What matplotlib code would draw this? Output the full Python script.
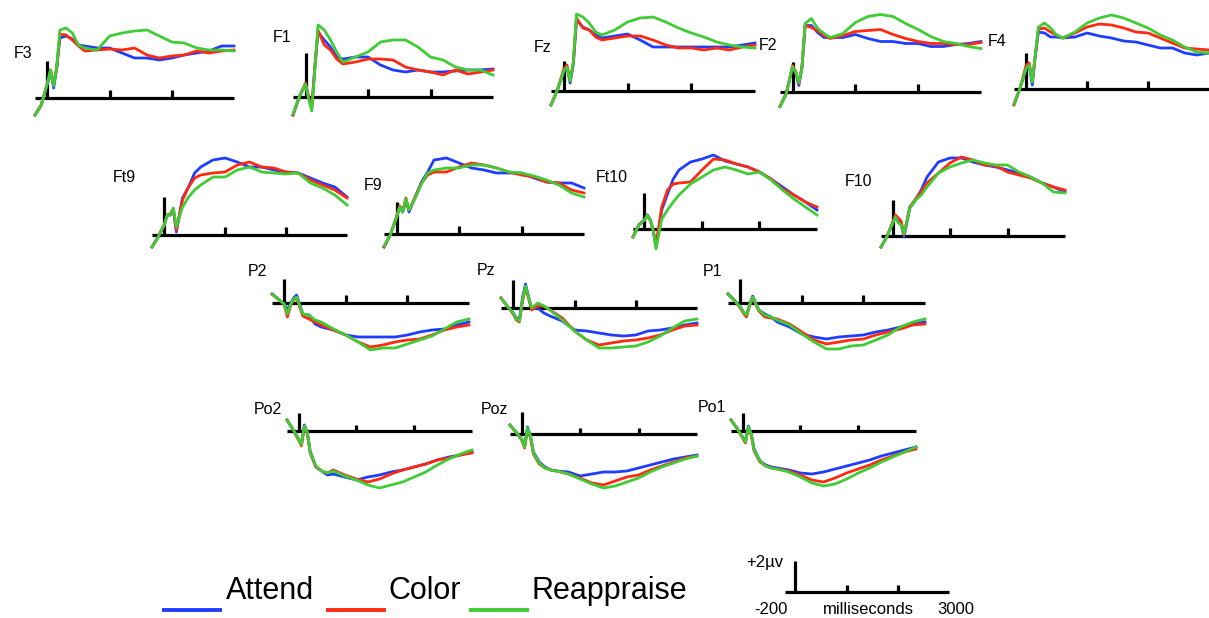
import matplotlib
matplotlib.use("Agg")
import matplotlib.pyplot as plt

plt.rcParams['font.family'] = ['Liberation Sans', 'DejaVu Sans']

# sample times (ms) shared by every waveform
T_MS = [-200, -100, 0, 50, 100, 150, 200, 300, 400, 500, 600, 800, 1000,
        1200, 1400, 1600, 1800, 2000, 2200, 2400, 2600, 2800, 3000]

CONDITIONS = ['Attend', 'Color', 'Reappraise']

# amplitudes (scale bar: +2 uV = 31 units)
f3_attend = [-17, -7, 14, 27, 10, 30, 60, 62, 59, 53, 52, 50, 50, 45, 40, 40, 38, 40, 43, 45, 47, 52, 52]
f3_color = [-17, -7, 15, 28, 13, 31, 64, 63, 58, 52, 47, 48, 49, 48, 50, 43, 40, 42, 43, 47, 45, 47, 48]
f3_reapp = [-17, -7, 15, 28, 12, 32, 68, 70, 65, 53, 50, 48, 62, 65, 67, 68, 62, 56, 55, 50, 48, 48, 47]

f1_attend = [-18, 0, 13, 0, -10, 30, 65, 57, 50, 40, 38, 40, 40, 32, 27, 25, 27, 25, 25, 26, 27, 27, 28]
f1_color = [-18, 0, 14, 0, -11, 30, 67, 52, 47, 38, 33, 35, 38, 38, 37, 30, 27, 25, 22, 27, 23, 25, 27]
f1_reapp = [-17, 0, 13, -2, -14, 28, 72, 67, 57, 45, 35, 40, 45, 55, 57, 57, 50, 40, 37, 30, 27, 27, 22]

fz_attend = [-14, 1, 19, 24, 8, 27, 71, 64, 61, 56, 53, 55, 57, 51, 44, 44, 44, 44, 44, 44, 44, 46, 48]
fz_color = [-14, 1, 22, 26, 10, 28, 73, 63, 61, 54, 51, 53, 55, 55, 51, 46, 43, 43, 41, 43, 41, 44, 46]
fz_reapp = [-14, 1, 20, 24, 10, 29, 77, 74, 68, 59, 56, 61, 69, 73, 74, 69, 63, 58, 54, 49, 46, 44, 43]

f2_attend = [-15, -2, 24, 19, 6, 24, 66, 66, 59, 54, 54, 54, 57, 53, 50, 50, 48, 48, 45, 45, 47, 48, 50]
f2_color = [-15, -2, 26, 20, 8, 25, 66, 64, 61, 56, 53, 56, 60, 61, 62, 57, 53, 50, 48, 48, 47, 47, 49]
f2_reapp = [-15, -2, 25, 19, 9, 24, 68, 73, 63, 58, 54, 58, 69, 75, 77, 75, 68, 62, 55, 50, 48, 45, 43]

f4_attend = [-15, 1, 20, 23, 4, 33, 57, 56, 52, 52, 51, 52, 56, 53, 51, 48, 47, 44, 41, 41, 36, 34, 36]
f4_color = [-16, 1, 24, 26, 8, 34, 60, 61, 57, 54, 51, 56, 62, 65, 64, 61, 57, 56, 51, 46, 41, 40, 39]
f4_reapp = [-15, 1, 21, 24, 7, 35, 62, 66, 61, 54, 51, 57, 66, 71, 74, 71, 66, 61, 54, 49, 42, 37, 36]

ft9_attend = [-12, -2, 10, 20, 20, 25, 3, 37, 48, 62, 68, 75, 77, 73, 68, 68, 65, 63, 62, 57, 52, 48, 38]
ft9_color = [-12, -2, 10, 20, 21, 26, 5, 35, 48, 57, 60, 62, 63, 70, 73, 68, 67, 63, 62, 55, 50, 45, 37]
ft9_reapp = [-12, -2, 10, 20, 20, 27, 8, 28, 38, 45, 50, 58, 58, 65, 68, 63, 62, 61, 62, 52, 47, 40, 30]

f9_attend = [-13, -1, 17, 27, 22, 34, 22, 37, 52, 62, 74, 76, 71, 66, 64, 61, 61, 61, 56, 52, 51, 51, 46]
f9_color = [-13, -1, 17, 28, 23, 36, 24, 37, 51, 59, 62, 62, 67, 71, 69, 66, 62, 59, 57, 52, 51, 44, 41]
f9_reapp = [-12, -1, 16, 27, 22, 35, 24, 36, 50, 61, 64, 66, 66, 69, 69, 66, 62, 61, 58, 54, 49, 41, 37]

ft10_attend = [-8, 4, 9, 14, 9, -1, -18, 19, 35, 50, 59, 67, 70, 74, 68, 65, 62, 57, 50, 42, 34, 27, 19]
ft10_color = [-8, 4, 9, 14, 9, -1, -16, 22, 39, 45, 46, 47, 59, 70, 69, 65, 62, 57, 50, 40, 34, 27, 22]
ft10_reapp = [-8, 4, 9, 14, 9, -1, -20, 10, 19, 27, 34, 45, 52, 59, 62, 59, 55, 57, 49, 39, 30, 22, 14]

f10_attend = [-11, -1, 13, 20, 16, 13, -1, 28, 36, 46, 59, 74, 78, 78, 74, 71, 69, 66, 63, 59, 53, 49, 44]
f10_color = [-11, -1, 13, 21, 18, 15, 1, 29, 37, 44, 53, 63, 73, 79, 76, 71, 70, 64, 61, 58, 53, 49, 46]
f10_reapp = [-11, -1, 12, 19, 13, 11, 2, 28, 36, 41, 49, 63, 69, 73, 76, 73, 71, 71, 64, 59, 53, 44, 43]

p2_attend = [9, 4, -1, -7, -1, 5, 8, -11, -12, -21, -24, -27, -32, -34, -34, -34, -34, -32, -29, -27, -26, -22, -19]
p2_color = [9, 4, -2, -14, -3, 3, 5, -13, -16, -19, -22, -27, -32, -39, -44, -42, -39, -37, -36, -32, -27, -24, -22]
p2_reapp = [9, 4, -1, -11, -2, 4, 6, -11, -12, -17, -19, -26, -32, -39, -47, -45, -45, -41, -37, -33, -26, -19, -16]

pz_attend = [10, 2, -5, -10, -12, 10, 24, -1, 0, -5, -8, -13, -22, -23, -25, -27, -28, -27, -23, -22, -20, -17, -15]
pz_color = [10, 2, -6, -12, -14, 6, 21, -2, 2, 2, -2, -10, -23, -32, -37, -35, -33, -32, -30, -27, -22, -18, -17]
pz_reapp = [10, 2, -5, -11, -13, 8, 22, 0, 5, 2, -2, -12, -23, -32, -40, -40, -39, -38, -34, -28, -20, -13, -11]

p1_attend = [9, 3, -4, -9, -12, -2, 7, -7, -11, -14, -19, -24, -31, -34, -36, -34, -33, -32, -29, -27, -24, -21, -19]
p1_color = [9, 3, -5, -10, -14, -3, 6, -8, -14, -15, -16, -21, -29, -37, -41, -39, -37, -36, -32, -29, -26, -22, -21]
p1_reapp = [9, 3, -4, -9, -12, -2, 6, -7, -12, -14, -17, -22, -31, -39, -46, -46, -43, -42, -37, -32, -24, -19, -16]

po2_attend = [11, 2, -8, -13, 6, -1, -20, -36, -40, -44, -43, -46, -49, -46, -44, -41, -39, -36, -33, -29, -26, -24, -21]
po2_color = [11, 2, -9, -15, 4, -2, -22, -36, -40, -42, -39, -44, -48, -51, -48, -43, -39, -36, -33, -29, -27, -24, -22]
po2_reapp = [11, 2, -8, -14, 5, -1, -21, -35, -40, -42, -40, -45, -49, -54, -57, -54, -51, -46, -41, -34, -28, -23, -19]

poz_attend = [9, 2, -5, -12, 7, -2, -18, -28, -33, -36, -37, -38, -42, -40, -38, -38, -37, -34, -31, -28, -25, -23, -21]
poz_color = [9, 2, -6, -14, 5, -3, -20, -30, -34, -36, -37, -40, -44, -49, -51, -47, -43, -41, -36, -32, -28, -24, -22]
poz_reapp = [9, 2, -5, -13, 6, -2, -19, -29, -34, -36, -37, -40, -45, -50, -54, -52, -48, -44, -38, -33, -29, -25, -22]

po1_attend = [11, 3, -6, -10, 5, -3, -18, -30, -34, -36, -37, -39, -42, -43, -41, -38, -35, -32, -29, -25, -22, -19, -16]
po1_color = [11, 3, -7, -12, 3, -4, -20, -31, -35, -37, -38, -40, -44, -49, -51, -47, -42, -38, -34, -29, -25, -21, -18]
po1_reapp = [11, 3, -6, -11, 4, -3, -19, -30, -35, -37, -38, -41, -46, -52, -55, -53, -48, -42, -37, -31, -26, -21, -16]

waves = {
    'F3': (f3_attend, f3_color, f3_reapp),
    'F1': (f1_attend, f1_color, f1_reapp),
    'Fz': (fz_attend, fz_color, fz_reapp),
    'F2': (f2_attend, f2_color, f2_reapp),
    'F4': (f4_attend, f4_color, f4_reapp),
    'Ft9': (ft9_attend, ft9_color, ft9_reapp),
    'F9': (f9_attend, f9_color, f9_reapp),
    'Ft10': (ft10_attend, ft10_color, ft10_reapp),
    'F10': (f10_attend, f10_color, f10_reapp),
    'P2': (p2_attend, p2_color, p2_reapp),
    'Pz': (pz_attend, pz_color, pz_reapp),
    'P1': (p1_attend, p1_color, p1_reapp),
    'Po2': (po2_attend, po2_color, po2_reapp),
    'Poz': (poz_attend, poz_color, poz_reapp),
    'Po1': (po1_attend, po1_color, po1_reapp),
}

# layout in pixels: name, axis left, axis right, baseline y, bar height, label x, label y
layout = [
    ('F3', 35, 234, 98, 37, 23, 54),
    ('F1', 293, 493, 97, 44, 282, 38),
    ('Fz', 551, 755, 91, 30, 543, 47),
    ('F2', 780, 981, 91.5, 30, 768, 46),
    ('F4', 1014, 1209, 89, 36, 997, 41),
    ('Ft9', 152, 347, 235, 38, 124, 178),
    ('F9', 384, 584, 234, 32, 373, 186),
    ('Ft10', 633, 817, 229, 36, 612, 177),
    ('F10', 881, 1065, 236, 36, 858, 182),
    ('P2', 272, 469, 303, 24, 257, 272),
    ('Pz', 501, 697, 308, 28, 486, 271),
    ('P1', 728, 925, 303, 24, 713, 272),
    ('Po2', 287, 472, 431, 18, 268, 409),
    ('Poz', 510, 697, 434, 22, 494, 409),
    ('Po1', 731, 916, 431, 18, 712, 408),
]

W, H = 1209, 618
COLORS = ['#1f3dff', '#ff2a12', '#3fcc35']
LO, HI = -70, 90

fig = plt.figure(figsize=(W / 100, H / 100), dpi=100)


def make_axes(x0, x1, base):
    ax = fig.add_axes([x0 / W, (H - (base - LO)) / H, (x1 - x0) / W, (HI - LO) / H])
    ax.set_xlim(-200, 3000)
    ax.set_ylim(LO, HI)
    ax.set_axis_off()
    return ax


def draw_frame(ax, bar, tick):
    kw = dict(color='black', lw=2.3, solid_capstyle='butt', clip_on=False)
    ax.plot([-200, 3000], [0, 0], **kw)
    ax.plot([0, 0], [0, bar], **kw)
    for t in (1000, 2000):
        ax.plot([t, t], [0, tick], **kw)


for name, x0, x1, base, bar, lx, ly in layout:
    ax = make_axes(x0, x1, base)
    draw_frame(ax, bar, 6 if name.startswith('Po') else 8)
    for vals, col in zip(waves[name], COLORS):
        ax.plot(T_MS, vals, color=col, lw=2.0, clip_on=False)
    fig.text(lx / W, 1 - ly / H, name, ha='center', va='center', fontsize=11.5)

# scale bar
sax = make_axes(785, 949, 592)
draw_frame(sax, 31, 7)
fig.text(765 / W, 1 - 562 / H, '+2µv', ha='center', va='center', fontsize=12)
fig.text(771 / W, 1 - 610 / H, '-200', ha='center', va='center', fontsize=12)
fig.text(868 / W, 1 - 610 / H, 'milliseconds', ha='center', va='center', fontsize=12)
fig.text(956 / W, 1 - 610 / H, '3000', ha='center', va='center', fontsize=12)

# legend
leg_line_x = [162, 326, 469]
leg_text_x = [226, 389, 532]
lax = fig.add_axes([0, 0, 1, 1])
lax.set_xlim(0, W)
lax.set_ylim(H, 0)
lax.set_axis_off()
for lab, col, lx, tx in zip(CONDITIONS, COLORS, leg_line_x, leg_text_x):
    lax.plot([lx, lx + 60], [610, 610], color=col, lw=2.8, solid_capstyle='butt')
    lax.text(tx, 599, lab, ha='left', va='baseline', fontsize=22)

fig.savefig('out.png', dpi=100)
